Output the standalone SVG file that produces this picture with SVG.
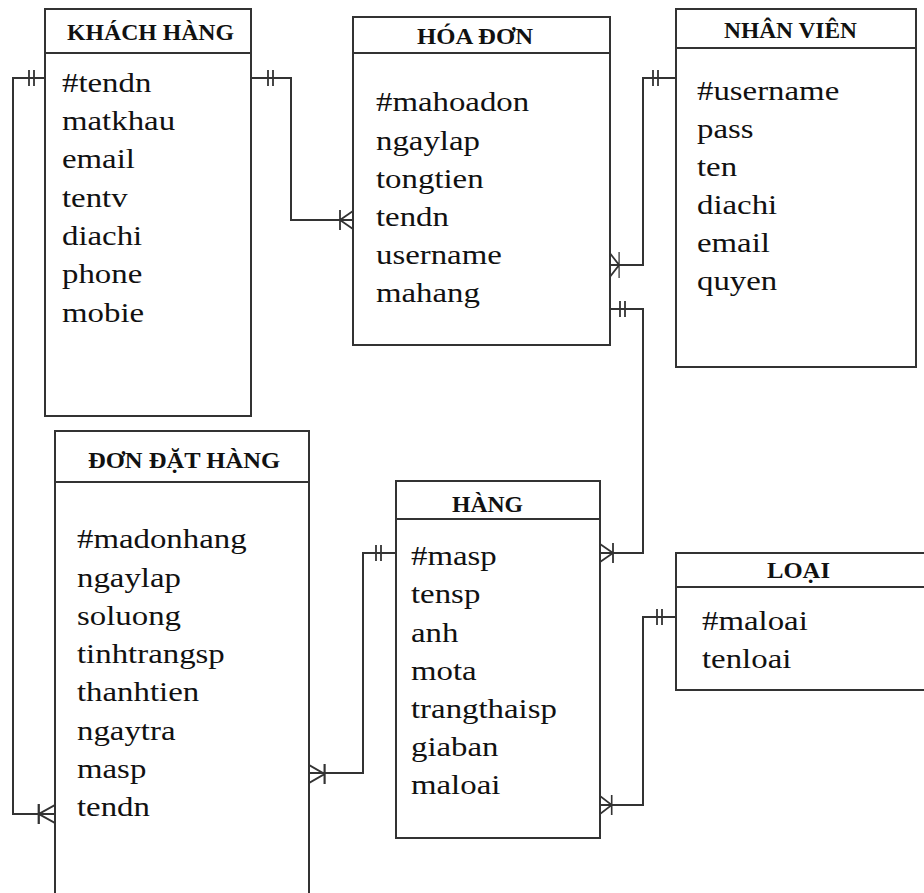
<svg xmlns="http://www.w3.org/2000/svg" xmlns:xlink="http://www.w3.org/1999/xlink" width="924" height="893" viewBox="0 0 924 893">
  <style>
    .box { fill: #ffffff; stroke: #333333; stroke-width: 2; }
    .sep { fill: none; stroke: #333333; stroke-width: 2; }
    .link { fill: none; stroke: #333333; stroke-width: 2; }
    .mark { fill: none; stroke: #333333; stroke-width: 1.8; }
    .title { font-family: "Liberation Serif", "Times New Roman", serif; font-weight: bold; font-size: 23px; fill: #111111; }
    .attr { font-family: "Liberation Serif", "Times New Roman", serif; font-size: 26.5px; fill: #111111; }
  </style>
  <defs>
    <!-- crow's foot (many); entity edge at x=0, line arriving from the left -->
    <path id="many" d="M-13 -10 V10 M-13 0 L0 -9 M-13 0 L0 9"/>
    <!-- one-and-only-one bars -->
    <path id="one" d="M0 -8 V8 M5 -8 V8"/>
  </defs>

  <rect width="924" height="893" fill="#ffffff"/>

  <!-- relationship lines -->
  <g id="connectors">
    <!-- KHÁCH HÀNG 1 — n ĐƠN ĐẶT HÀNG -->
    <path class="link" d="M45 78 H13 V814 H55"/>
    <use href="#one" class="mark" x="29" y="78"/>
    <use href="#many" class="mark" transform="translate(55 814) scale(1.25 1)"/>

    <!-- KHÁCH HÀNG 1 — n HÓA ĐƠN -->
    <path class="link" d="M251 78 H291 V220 H353"/>
    <use href="#one" class="mark" x="268" y="78"/>
    <use href="#many" class="mark" transform="translate(353 220)"/>

    <!-- NHÂN VIÊN 1 — n HÓA ĐƠN -->
    <path class="link" d="M610 265 H643 V78 H676"/>
    <use href="#one" class="mark" x="653" y="78"/>
    <use href="#many" class="mark" transform="translate(610 265) scale(-0.7 1.3)"/>

    <!-- HÀNG 1 — n HÓA ĐƠN -->
    <path class="link" d="M610 309 H643 V553 H600"/>
    <use href="#one" class="mark" x="620" y="309"/>
    <use href="#many" class="mark" transform="translate(600 553) scale(-1 1)"/>

    <!-- HÀNG 1 — n ĐƠN ĐẶT HÀNG -->
    <path class="link" d="M396 553 H363 V773 H309"/>
    <use href="#one" class="mark" x="376" y="553"/>
    <use href="#many" class="mark" transform="translate(309 774) scale(-1.2 1)"/>

    <!-- LOẠI 1 — n HÀNG -->
    <path class="link" d="M676 617 H643 V805 H600"/>
    <use href="#one" class="mark" x="657" y="617"/>
    <use href="#many" class="mark" transform="translate(600 805) scale(-0.9 1)"/>
  </g>

  <!-- KHÁCH HÀNG -->
  <g id="khach-hang">
    <rect class="box" x="45" y="9" width="206" height="407"/>
    <line class="sep" x1="45" y1="53" x2="251" y2="53"/>
    <text class="title" x="67" y="40" textLength="167" lengthAdjust="spacingAndGlyphs">KHÁCH HÀNG</text>
    <text class="attr" transform="translate(62 0) scale(1.24 1)">
      <tspan x="0" y="92">#tendn</tspan>
      <tspan x="0" y="130">matkhau</tspan>
      <tspan x="0" y="168">email</tspan>
      <tspan x="0" y="207">tentv</tspan>
      <tspan x="0" y="245">diachi</tspan>
      <tspan x="0" y="283">phone</tspan>
      <tspan x="0" y="322">mobie</tspan>
    </text>
  </g>

  <!-- HÓA ĐƠN -->
  <g id="hoa-don">
    <rect class="box" x="353" y="17" width="257" height="328"/>
    <line class="sep" x1="353" y1="53" x2="610" y2="53"/>
    <text class="title" x="417" y="44" textLength="116" lengthAdjust="spacingAndGlyphs">HÓA ĐƠN</text>
    <text class="attr" transform="translate(376 0) scale(1.24 1)">
      <tspan x="0" y="111">#mahoadon</tspan>
      <tspan x="0" y="150">ngaylap</tspan>
      <tspan x="0" y="188">tongtien</tspan>
      <tspan x="0" y="226">tendn</tspan>
      <tspan x="0" y="264">username</tspan>
      <tspan x="0" y="302">mahang</tspan>
    </text>
  </g>

  <!-- NHÂN VIÊN -->
  <g id="nhan-vien">
    <rect class="box" x="676" y="9" width="240" height="358"/>
    <line class="sep" x1="676" y1="48" x2="916" y2="48"/>
    <text class="title" x="724" y="38" textLength="133" lengthAdjust="spacingAndGlyphs">NHÂN VIÊN</text>
    <text class="attr" transform="translate(697 0) scale(1.24 1)">
      <tspan x="0" y="100">#username</tspan>
      <tspan x="0" y="138">pass</tspan>
      <tspan x="0" y="176">ten</tspan>
      <tspan x="0" y="214">diachi</tspan>
      <tspan x="0" y="252">email</tspan>
      <tspan x="0" y="290">quyen</tspan>
    </text>
  </g>

  <!-- ĐƠN ĐẶT HÀNG (continues below the page edge) -->
  <g id="don-dat-hang">
    <path class="box" d="M55 900 V431 H309 V900"/>
    <line class="sep" x1="55" y1="482" x2="309" y2="482"/>
    <text class="title" x="88" y="468" textLength="192" lengthAdjust="spacingAndGlyphs">ĐƠN ĐẶT HÀNG</text>
    <text class="attr" transform="translate(77 0) scale(1.24 1)">
      <tspan x="0" y="548">#madonhang</tspan>
      <tspan x="0" y="587">ngaylap</tspan>
      <tspan x="0" y="625">soluong</tspan>
      <tspan x="0" y="663">tinhtrangsp</tspan>
      <tspan x="0" y="701">thanhtien</tspan>
      <tspan x="0" y="740">ngaytra</tspan>
      <tspan x="0" y="778">masp</tspan>
      <tspan x="0" y="816">tendn</tspan>
    </text>
  </g>

  <!-- HÀNG -->
  <g id="hang">
    <rect class="box" x="396" y="481" width="204" height="357"/>
    <line class="sep" x1="396" y1="519" x2="600" y2="519"/>
    <text class="title" x="452" y="512" textLength="71" lengthAdjust="spacingAndGlyphs">HÀNG</text>
    <text class="attr" transform="translate(411 0) scale(1.24 1)">
      <tspan x="0" y="565">#masp</tspan>
      <tspan x="0" y="603">tensp</tspan>
      <tspan x="0" y="642">anh</tspan>
      <tspan x="0" y="680">mota</tspan>
      <tspan x="0" y="718">trangthaisp</tspan>
      <tspan x="0" y="756">giaban</tspan>
      <tspan x="0" y="794">maloai</tspan>
    </text>
  </g>

  <!-- LOẠI (continues past the right edge) -->
  <g id="loai">
    <path class="box" d="M930 553 H676 V690 H930"/>
    <line class="sep" x1="676" y1="587" x2="930" y2="587"/>
    <text class="title" x="767" y="578" textLength="63" lengthAdjust="spacingAndGlyphs">LOẠI</text>
    <text class="attr" transform="translate(702 0) scale(1.24 1)">
      <tspan x="0" y="630">#maloai</tspan>
      <tspan x="0" y="668">tenloai</tspan>
    </text>
  </g>
</svg>
